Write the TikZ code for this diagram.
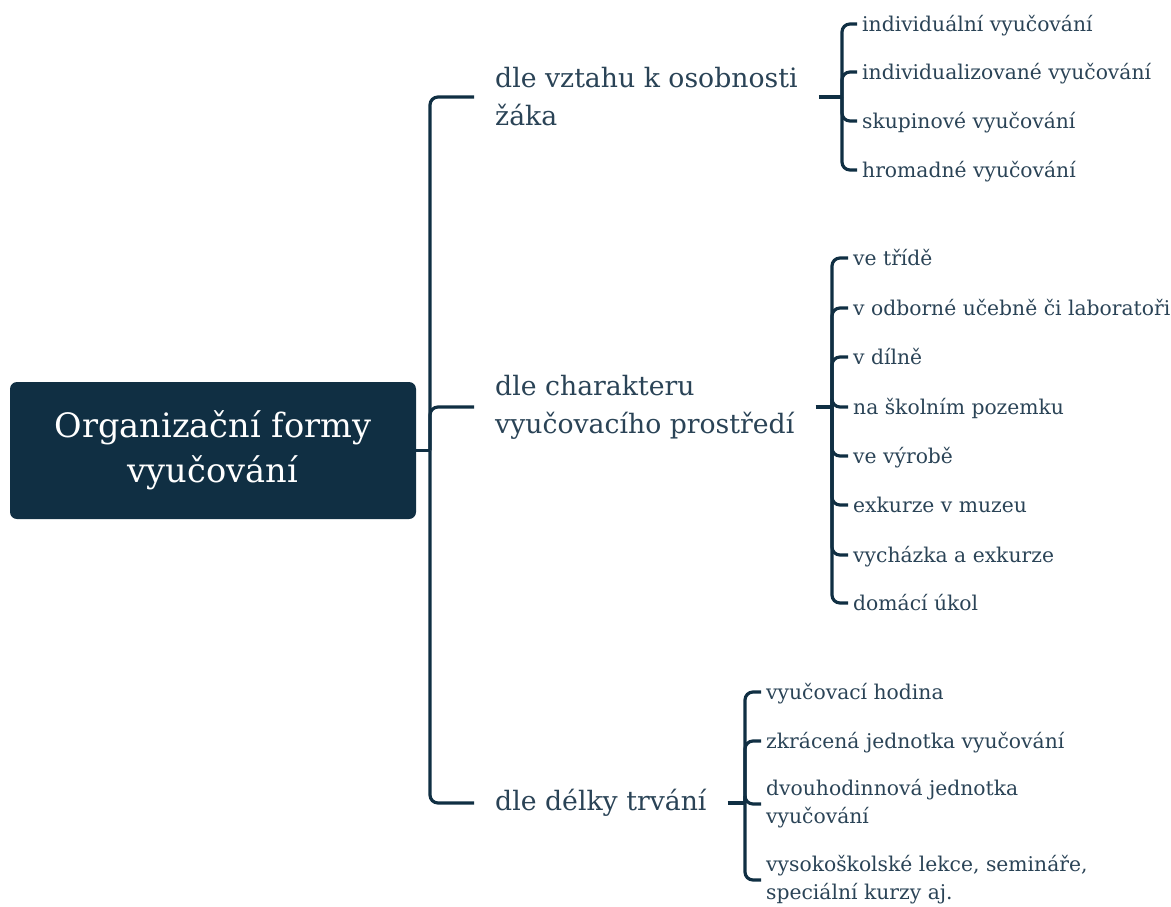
\documentclass[tikz,border=0pt]{standalone}
\usepackage{fontspec}
\setmainfont{DejaVu Serif}
\definecolor{navy}{HTML}{102F43}
\definecolor{txt}{HTML}{2A4356}
\tikzset{
  conn/.style={draw=navy, line width=3.2pt, rounded corners=8pt},
  rootbox/.style={fill=navy, rounded corners=7pt, minimum width=406pt, minimum height=137pt,
    text=white, align=center, inner sep=0pt, font=\fontsize{33.6}{45}\selectfont},
  lvlone/.style={anchor=west, inner xsep=21pt, inner ysep=0pt, text=txt, align=left,
    font=\fontsize{26.7}{38}\selectfont},
  leaf/.style={anchor=west, inner xsep=5pt, inner ysep=0pt, text=txt,
    font=\fontsize{20.3}{28}\selectfont, text height=15pt, text depth=0pt},
  leaftwo/.style={anchor=west, inner xsep=5pt, inner ysep=0pt, text=txt, align=left,
    font=\fontsize{20.3}{28}\selectfont},
}
\begin{document}
\begin{tikzpicture}[x=1pt, y=-1pt]
\useasboundingbox (0,0) rectangle (1171,906);
% root
\node[rootbox] (root) at (213,450.5) {Organizační formy\\vyučování};
% level one
\node[lvlone] (d1) at (474,97) {dle vztahu k osobnosti\\žáka};
\node[lvlone] (d2) at (474,407) {dle charakteru\\vyučovacího prostředí};
\node[lvlone, text height=20pt, text depth=6pt] (d3) at (474,803) {dle délky trvání};
% leaves group 1
\node[leaf] (a1) at (857,24) {individuální vyučování};
\node[leaf] (a2) at (857,72) {individualizované vyučování};
\node[leaf] (a3) at (857,121) {skupinové vyučování};
\node[leaf] (a4) at (857,170) {hromadné vyučování};
% leaves group 2
\node[leaf] (b1) at (848,258) {ve třídě};
\node[leaf] (b2) at (848,308) {v odborné učebně či laboratoři};
\node[leaf] (b3) at (848,357) {v dílně};
\node[leaf] (b4) at (848,407) {na školním pozemku};
\node[leaf] (b5) at (848,456) {ve výrobě};
\node[leaf] (b6) at (848,505) {exkurze v muzeu};
\node[leaf] (b7) at (848,555) {vycházka a exkurze};
\node[leaf] (b8) at (848,603) {domácí úkol};
% leaves group 3
\node[leaf] (c1) at (761,692) {vyučovací hodina};
\node[leaf] (c2) at (761,741) {zkrácená jednotka vyučování};
\node[leaftwo] (c3) at (761,804) {dvouhodinnová jednotka\\vyučování};
\node[leaftwo] (c4) at (761,880) {vysokoškolské lekce, semináře,\\speciální kurzy aj.};
% junction coordinates
\coordinate (t) at (430,0);
\coordinate (j1) at (842,0);
\coordinate (j2) at (832,0);
\coordinate (j3) at (745,0);
% trunk
\draw[conn] (root.east) -- (root.east -| t);
\foreach \n in {d1,d2,d3}
  \draw[conn] (root.east -| t) |- (\n.west);
% brackets
\draw[conn] (d1.east) -- (d1.east -| j1);
\foreach \n in {a1,a2,a3,a4}
  \draw[conn] (d1.east -| j1) |- (\n.west);
\draw[conn] (d2.east) -- (d2.east -| j2);
\foreach \n in {b1,b2,b3,b4,b5,b6,b7,b8}
  \draw[conn] (d2.east -| j2) |- (\n.west);
\draw[conn] (d3.east) -- (d3.east -| j3);
\foreach \n in {c1,c2,c3,c4}
  \draw[conn] (d3.east -| j3) |- (\n.west);
\end{tikzpicture}
\end{document}
